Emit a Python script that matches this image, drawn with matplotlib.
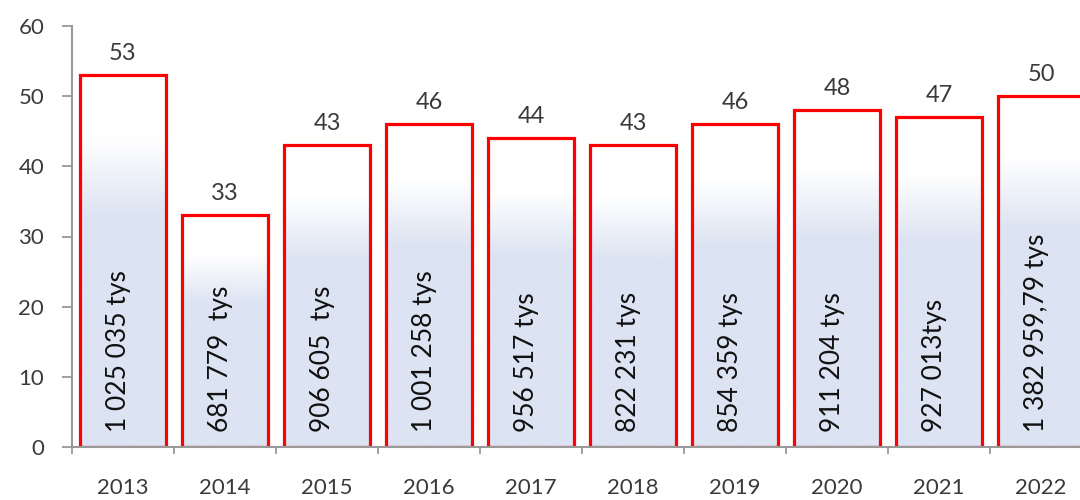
import numpy as np
import matplotlib
matplotlib.use("Agg")
import matplotlib.pyplot as plt
from matplotlib.colors import to_rgb

years = ["2013", "2014", "2015", "2016", "2017", "2018", "2019", "2020", "2021", "2022"]
counts = [53, 33, 43, 46, 44, 43, 46, 48, 47, 50]
amounts = ["1 025 035 tys", "681 779  tys", "906 605  tys", "1 001 258 tys", "956 517 tys",
           "822 231 tys", "854 359 tys", "911 204 tys", "927 013tys", "1 382 959,79 tys"]
y_ticks = [0, 10, 20, 30, 40, 50, 60]

W, H = 1080, 500
fig = plt.figure(figsize=(W / 100, H / 100), dpi=100)
ax = fig.add_axes([72 / W, 53 / H, 1020 / W, 421 / H])

x = np.arange(len(years))
bar_w = 0.84
blue = np.array(to_rgb("#dce3f2"))
white = np.ones(3)

# gradient: white at top, fading to light blue from ~17% to ~38% of bar height
n = 200
t = np.linspace(0, 1, n)  # 0 = top, 1 = bottom
f = np.clip((t - 0.17) / (0.38 - 0.17), 0, 1)
grad = white[None, :] * (1 - f[:, None]) + blue[None, :] * f[:, None]
img = grad[:, None, :]

bars = ax.bar(x, counts, width=bar_w, facecolor="none", edgecolor="#ff0000",
              linewidth=2.3, zorder=2)
for rect in bars:
    x0 = rect.get_x()
    h = rect.get_height()
    ax.imshow(img, extent=(x0, x0 + bar_w, 0, h), aspect="auto", origin="upper",
              zorder=1, interpolation="bilinear")

thin = dict(family=["Lato", "DejaVu Sans"], weight="normal", color="#3a3a3a")
for xi, v in zip(x, counts):
    ax.annotate(str(v), (xi, v), xytext=(0, 8), textcoords="offset points",
                ha="center", va="bottom", fontsize=17, **thin)

for xi, s in zip(x, amounts):
    ax.text(xi - 0.04, 2.1, s, rotation=90, ha="center", va="bottom",
            fontsize=19, family=["Lato", "DejaVu Sans"], color="#111111", zorder=3)

ax.set_xlim(-0.5, len(years) - 0.5)
ax.set_ylim(0, 60)
ax.set_yticks(y_ticks)
ax.set_yticklabels([str(v) for v in y_ticks], fontdict=dict(fontsize=16, **thin))

ax.set_xticks(np.arange(len(years) + 1) - 0.5)
ax.set_xticklabels([])
ax.set_xticks(x, minor=True)
ax.set_xticklabels(years, minor=True, fontdict=dict(fontsize=16, **thin))
ax.tick_params(axis="x", which="major", length=5, width=1.3, color="#999999", direction="out")
ax.tick_params(axis="x", which="minor", length=0, pad=22)
ax.tick_params(axis="y", length=7, width=1.3, color="#999999", pad=13)

for side in ["top", "right"]:
    ax.spines[side].set_visible(False)
for side in ["left", "bottom"]:
    ax.spines[side].set_color("#999999")
    ax.spines[side].set_linewidth(1.5)
    ax.spines[side].set_zorder(4)

fig.savefig("out.png", dpi=100)
